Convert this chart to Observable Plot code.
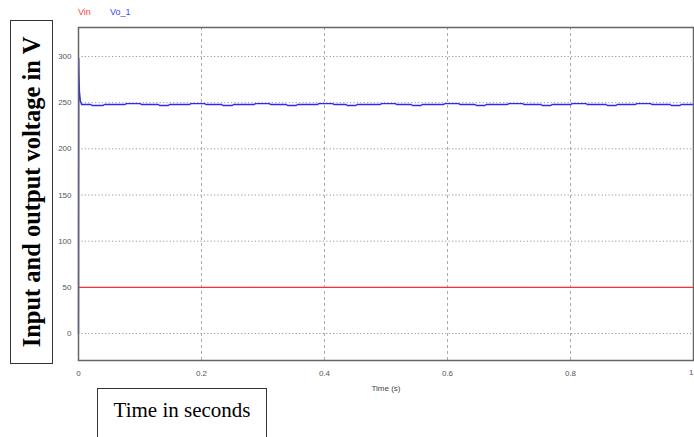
<!DOCTYPE html>
<html>
<head>
<meta charset="utf-8">
<script src="https://cdn.jsdelivr.net/npm/d3@7"></script>
<script src="https://cdn.jsdelivr.net/npm/@observablehq/plot@0.6"></script>
<style>
  html, body { margin: 0; padding: 0; background: #fff; }
  #wrap { position: relative; width: 694px; height: 437px; overflow: hidden; }
  #chart { position: absolute; left: 0; top: 0; }
  .legend { position: absolute; top: 7px; font: 9px "Liberation Sans", Arial, sans-serif; }
  #ybox { position: absolute; left: 10px; top: 20px; width: 43px; height: 344px; border: 1.5px solid #333; box-sizing: border-box; }
  #ybox span { position: absolute; left: 50%; top: 50%; transform: translate(-50%, -50%) rotate(-90deg); white-space: nowrap; font: bold 24.5px "Liberation Serif", "Times New Roman", serif; color: #000; }
  #xbox { position: absolute; left: 97px; top: 388px; width: 170px; height: 70px; border: 1.5px solid #333; box-sizing: border-box; text-align: center; padding-top: 9px; font: 21px "Liberation Serif", "Times New Roman", serif; color: #000; }
</style>
</head>
<body>
<div id="wrap">
  <div id="chart"></div>
  <div class="legend" style="left:78px;color:#ff4444">Vin</div>
  <div class="legend" style="left:110px;color:#4444ff">Vo_1</div>
  <div id="ybox"><span>Input and output voltage in V</span></div>
  <div id="xbox">Time in seconds</div>
</div>
<script>
// Time axis ticks and voltage ticks
const xTicks = [0, 0.2, 0.4, 0.6, 0.8, 1];
const yTicks = [0, 50, 100, 150, 200, 250, 300];
const xAxisTitle = "Time (s)";

// Input voltage Vin (constant 50 V)
const vinTime = [0, 1];
const vinVolt = [50, 50];

// Output voltage Vo_1
const voTime = [0, 0.0004, 0.0008, 0.0015, 0.003, 0.005, 0.02, 0.022, 0.04, 0.042,
  0.075, 0.078, 0.1, 0.103, 0.13, 0.132, 0.146, 0.148,
  0.18, 0.183, 0.205, 0.208, 0.233, 0.235, 0.25, 0.252,
  0.285, 0.288, 0.31, 0.313, 0.338, 0.34, 0.354, 0.356,
  0.388, 0.391, 0.413, 0.416, 0.435, 0.437, 0.451, 0.453,
  0.49, 0.493, 0.515, 0.518, 0.541, 0.543, 0.557, 0.559,
  0.593, 0.596, 0.618, 0.621, 0.645, 0.647, 0.661, 0.663,
  0.697, 0.7, 0.722, 0.725, 0.752, 0.754, 0.768, 0.77,
  0.8, 0.803, 0.825, 0.828, 0.858, 0.86, 0.874, 0.876,
  0.905, 0.908, 0.93, 0.933, 0.962, 0.964, 0.978, 0.98, 1];
const voVolt = [0, 298, 280, 262, 252, 248, 248, 247, 247, 248,
  248, 249, 249, 248, 248, 247, 247, 248,
  248, 249, 249, 248, 248, 247, 247, 248,
  248, 249, 249, 248, 248, 247, 247, 248,
  248, 249, 249, 248, 248, 247, 247, 248,
  248, 249, 249, 248, 248, 247, 247, 248,
  248, 249, 249, 248, 248, 247, 247, 248,
  248, 249, 249, 248, 248, 247, 247, 248,
  248, 249, 249, 248, 248, 247, 247, 248,
  248, 249, 249, 248, 248, 247, 247, 248, 248];

const vin = vinTime.map((t, i) => ({t, v: vinVolt[i]}));
const vo = voTime.map((t, i) => ({t, v: voVolt[i]}));
const innerTicks = xTicks.filter(d => d < 1);
const lastTick = xTicks.filter(d => d === 1);

const plot = Plot.plot({
  width: 694,
  height: 437,
  marginLeft: 78,
  marginRight: 1,
  marginTop: 27,
  marginBottom: 77,
  style: {fontFamily: "'Liberation Sans', Arial, sans-serif", fontSize: "8px", color: "#555", background: "#fff"},
  x: {domain: [0, 1], ticks: xTicks, tickSize: 0, tickPadding: 10, label: null, tickFormat: d => String(d)},
  y: {domain: [-29.2, 331.4], ticks: yTicks, tickSize: 0, tickPadding: 7, label: null},
  marks: [
    Plot.ruleY(yTicks, {stroke: "#999", strokeDasharray: "1.2,2.2", strokeWidth: 1}),
    Plot.ruleX(xTicks.filter(d => d > 0 && d < 1), {stroke: "#aaa", strokeDasharray: "3,3", strokeWidth: 1}),
    Plot.line(vin, {x: "t", y: "v", stroke: "#ff3030", strokeWidth: 1.4}),
    Plot.line(vo, {x: "t", y: "v", stroke: "#2a2aff", strokeWidth: 1.4}),
    Plot.frame({stroke: "#666", strokeWidth: 1.5}),
    Plot.axisX({ticks: innerTicks, tickSize: 0, tickPadding: 10, label: null, tickFormat: d => String(d)}),
    Plot.text(lastTick, {x: d => d, frameAnchor: "bottom", dy: 14, text: d => String(d), textAnchor: "end", fill: "#555", fontSize: 8}),
    Plot.axisY({ticks: yTicks, tickSize: 0, tickPadding: 7, label: null}),
    Plot.text([xAxisTitle], {frameAnchor: "bottom", dy: 30, text: d => d, fill: "#444", fontSize: 8})
  ]
});
document.getElementById("chart").appendChild(plot);
</script>
</body>
</html>
